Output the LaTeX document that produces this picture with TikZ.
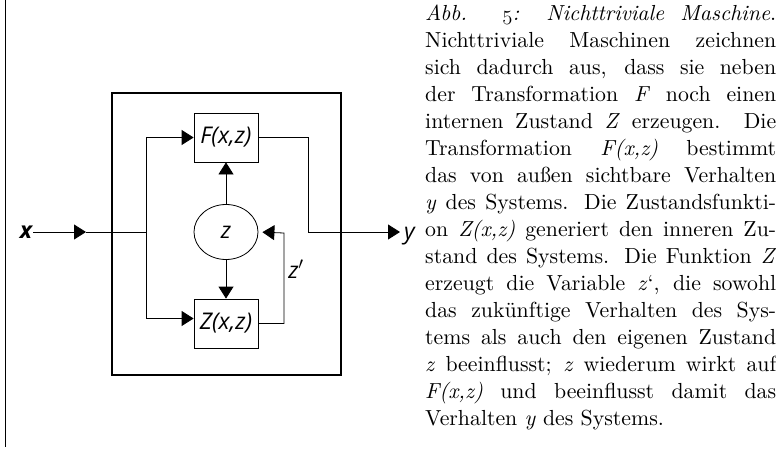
\documentclass[tikz,border=0pt]{standalone}
\usepackage{fontspec}
\setmainfont{lmroman10-regular}[Extension=.otf,ItalicFont=lmroman10-italic]
\newfontfamily\diagfont{Open Sans}
\usetikzlibrary{arrows.meta,shapes.geometric}

\newcommand{\textzeile}[1]{\hbox to 351pt{\vrule height 19pt depth 8pt width 0pt\relax #1}}

\tikzset{
  fliesspfeil/.style={draw,line width=0.8pt,-{Triangle[length=12pt,width=15pt]}},
  linie/.style={draw,line width=0.8pt},
  etikett/.style={font=\diagfont\itshape\fontsize{23}{26}\selectfont,inner sep=1pt}
}

\begin{document}
\begin{tikzpicture}[x=1pt,y=-1pt]
  \useasboundingbox (0,0) rectangle (776,468);

  \coordinate (randoben) at (5,0);
  \coordinate (randunten) at (5,447);
  \draw[line width=0.9pt] (randoben) -- (randunten);

  \node[draw,line width=2.4pt,minimum width=229pt,minimum height=282pt] (maschine) at (226.5,234) {};

  \begin{scope}[every node/.style={draw,line width=0.8pt,etikett,minimum width=64pt,minimum height=49pt}]
    \node[rectangle] (F) at (226,137.5) {F(x,z)};
    \node[rectangle] (Z) at (226,323.5) {Z(x,z)};
    \node[ellipse,minimum width=64pt,minimum height=55pt] (zustand) at (226,232) {z};
  \end{scope}

  \node[etikett,font=\diagfont\bfseries\itshape\fontsize{23}{26}\selectfont] (x) at (26,232) {x};
  \coordinate (xpfeil) at (86,232);
  \coordinate (xteil) at (146,232);
  \coordinate (yknick) at (308,232);
  \coordinate (ypfeil) at (400,232);
  \node[etikett,anchor=west] (y) at (403,236) {y};
  \coordinate (zknick) at (284,233);
  \node[etikett] (zstrich) at (296,269) {z$'$};

  \draw[fliesspfeil] (x.east) -- (xpfeil);
  \path[linie] (xpfeil) -- (xteil);
  \draw[fliesspfeil] (xteil) |- (F.west);
  \draw[fliesspfeil] (xteil) |- ([yshift=5pt]Z.west);
  \draw[fliesspfeil] (F.east) -| (yknick) -- (ypfeil);
  \draw[fliesspfeil] (zustand) -- (F);
  \draw[fliesspfeil] (zustand) -- (Z);
  \draw[fliesspfeil,shorten >=4pt] (Z.east) -| (zknick) -- (zustand.east);

  \node[anchor=north west,inner sep=0pt,font=\fontsize{21.8}{27}\selectfont] (text) at (425,1) {%
    \vbox{\offinterlineskip
    \textzeile{\textit{Abb. $\mathnormal{5}$: Nichttriviale Maschine}.}
    \textzeile{Nichttriviale Maschinen zeichnen}
    \textzeile{sich dadurch aus, dass sie neben}
    \textzeile{der Transformation \textit{F} noch einen}
    \textzeile{internen Zustand \textit{Z} erzeugen. Die}
    \textzeile{Transformation \textit{F(x,z)} bestimmt}
    \textzeile{das von außen sichtbare Verhalten}
    \textzeile{\textit{y} des Systems. Die Zustandsfunkti-}
    \textzeile{on \textit{Z(x,z)} generiert den inneren Zu-}
    \textzeile{stand des Systems. Die Funktion \textit{Z}}
    \textzeile{erzeugt die Variable \textit{z}‘, die sowohl}
    \textzeile{das zukünftige Verhalten des Sys-}
    \textzeile{tems als auch den eigenen Zustand}
    \textzeile{\textit{z} beeinflusst; \textit{z} wiederum wirkt auf}
    \textzeile{\textit{F(x,z)} und beeinflusst damit das}
    \textzeile{Verhalten \textit{y} des Systems.\hfil}}};
\end{tikzpicture}
\end{document}
